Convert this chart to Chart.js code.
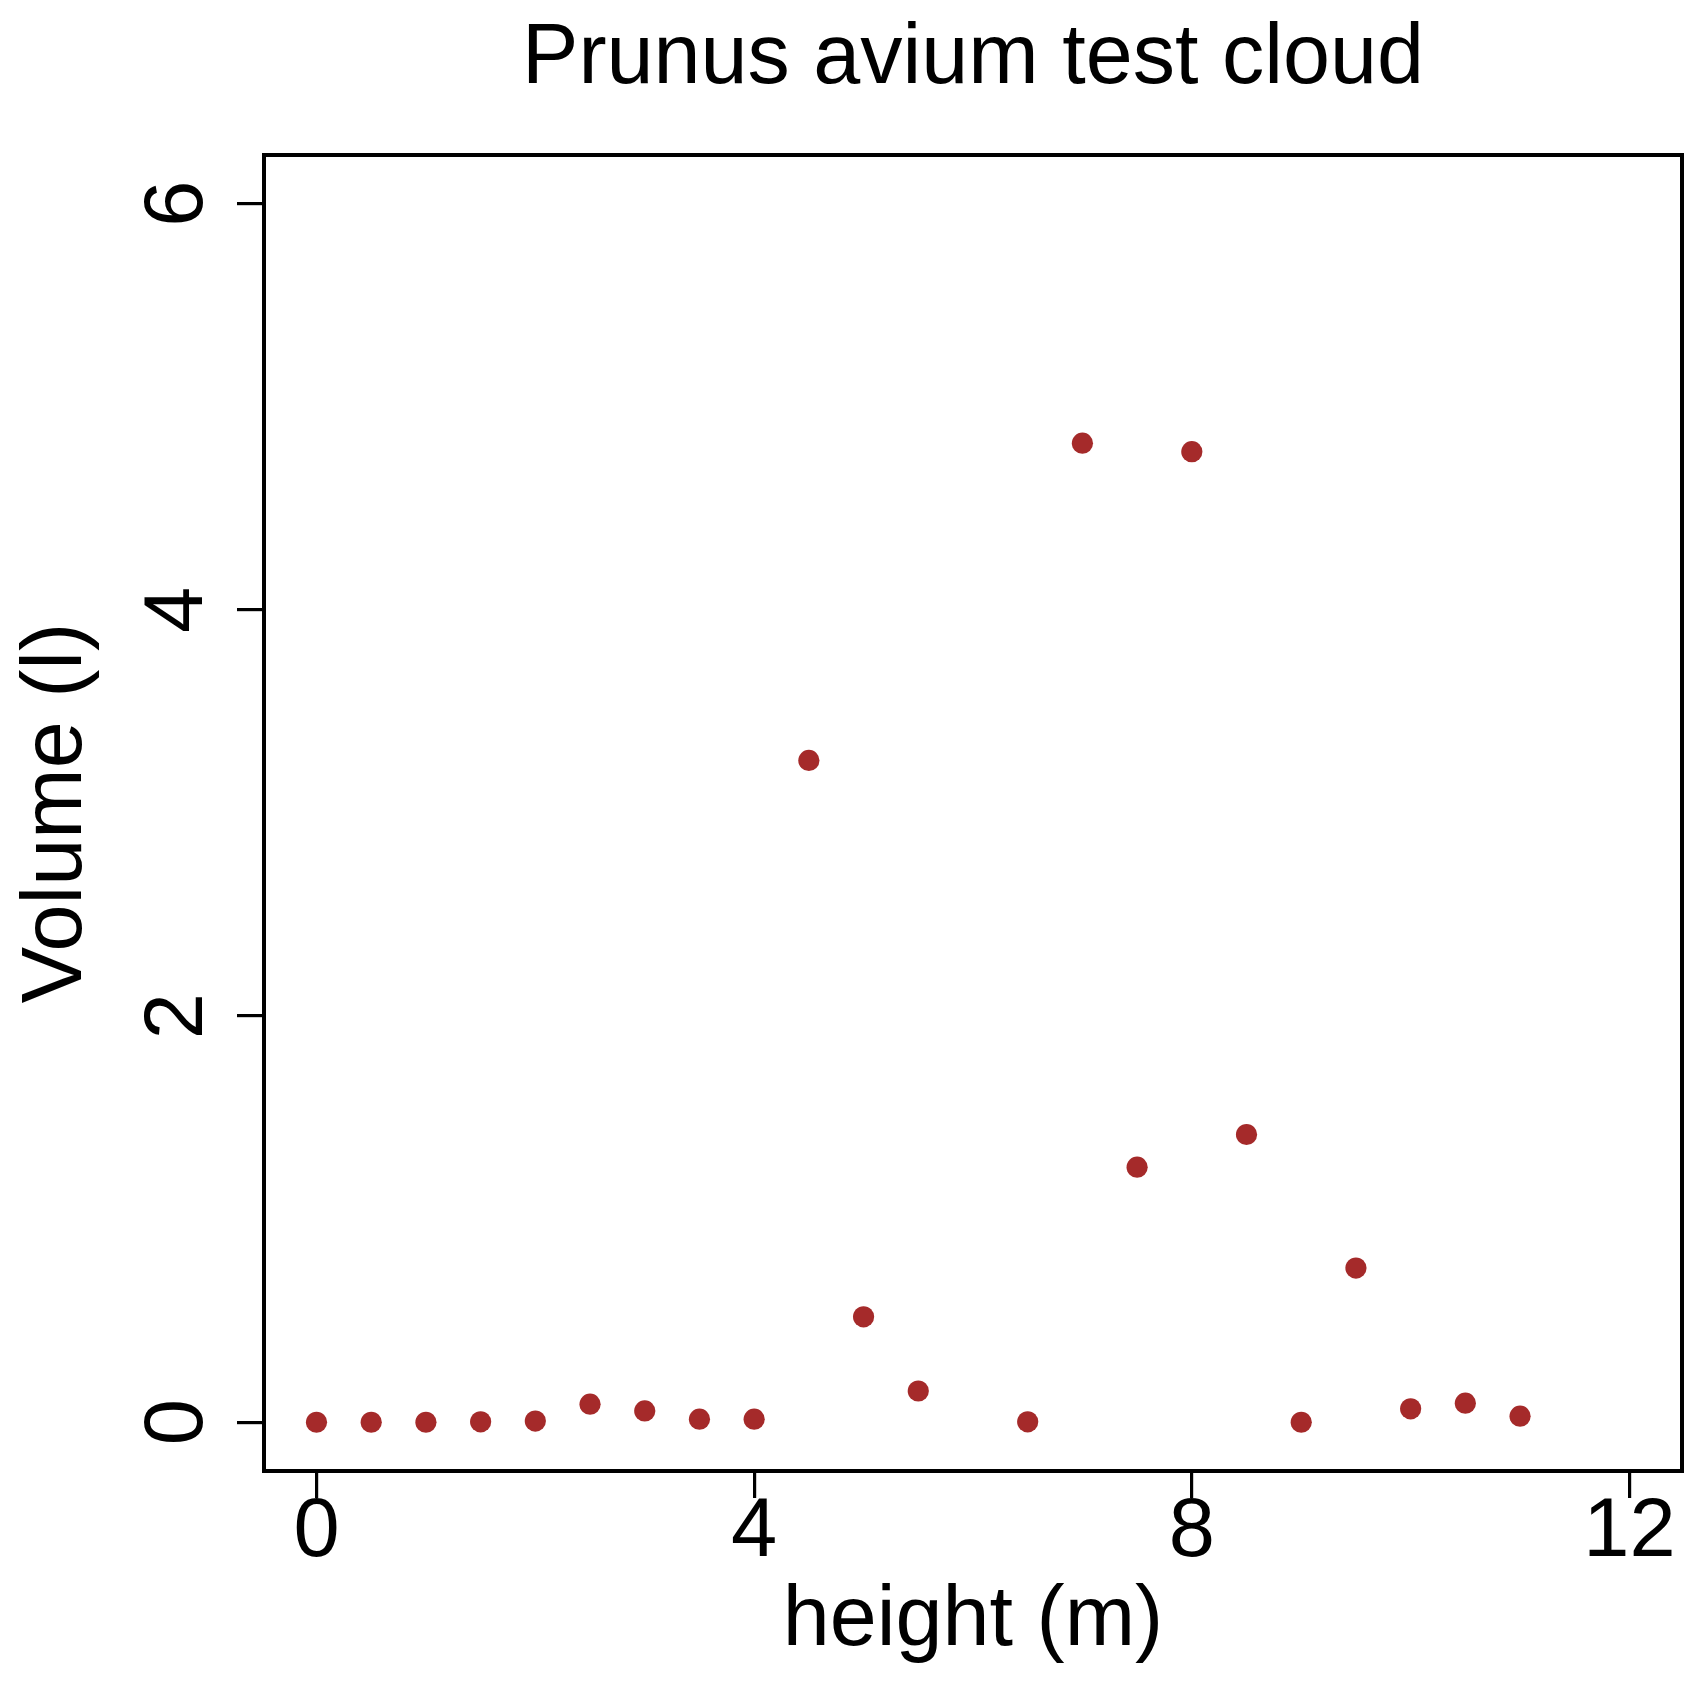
<!DOCTYPE html>
<html>
<head>
<meta charset="utf-8">
<script src="https://cdn.jsdelivr.net/npm/chart.js@4/dist/chart.umd.min.js"></script>
<style>
  html, body { margin: 0; padding: 0; background: #ffffff; }
  #wrap { width: 1708px; height: 1682px; }
</style>
</head>
<body>
<div id="wrap"><canvas id="c" width="1708" height="1682"></canvas></div>
<script>
// ---- data ----
const heights = [0, 0.5, 1, 1.5, 2, 2.5, 3, 3.5, 4, 4.5, 5, 5.5, 6.5, 7, 7.5, 8, 8.5, 9, 9.5, 10, 10.5, 11];
const volumes = [0, 0, 0, 0.002, 0.006, 0.089, 0.056, 0.015, 0.015, 3.259, 0.519, 0.154, 0.002, 4.821, 1.256, 4.779, 1.417, 0, 0.759, 0.066, 0.094, 0.030];
const xTicks = [0, 4, 8, 12];
const yTicks = [0, 2, 4, 6];
const xRange = [0, 12];
const yRange = [0, 6];
const titleText = 'Prunus avium test cloud';
const xLabel = 'height (m)';
const yLabel = 'Volume (l)';

// ---- styling ----
const FONT = "'Liberation Sans', Arial, Helvetica, sans-serif";
const FS_TICK = 83;
const FS_TITLE = 84.5;
const pointColor = '#A52A2A';
const xPad = (xRange[1] - xRange[0]) * 0.04;
const yPad = (yRange[1] - yRange[0]) * 0.04;

const points = heights.map((h, i) => ({ x: h, y: volumes[i] }));

const boxPlugin = {
  id: 'rbox',
  afterDraw(chart) {
    const a = chart.chartArea;
    const ctx = chart.ctx;
    ctx.save();
    ctx.strokeStyle = '#000';
    ctx.lineWidth = 4;
    ctx.lineJoin = 'miter';
    ctx.strokeRect(a.left, a.top, a.right - a.left, a.bottom - a.top);
    ctx.restore();
  }
};

new Chart(document.getElementById('c'), {
  type: 'scatter',
  data: {
    datasets: [{
      data: points,
      backgroundColor: pointColor,
      borderWidth: 0,
      pointRadius: 10.6,
      pointHoverRadius: 10.6
    }]
  },
  options: {
    responsive: false,
    animation: false,
    devicePixelRatio: 1,
    layout: { padding: { left: 0, right: 26, top: 0, bottom: 0 } },
    plugins: {
      legend: { display: false },
      tooltip: { enabled: false },
      title: {
        display: true,
        text: titleText,
        fullSize: false,
        color: '#000',
        font: { family: FONT, size: FS_TITLE, weight: 'normal', lineHeight: 1.2 },
        padding: { top: 8.6, bottom: 45 }
      }
    },
    scales: {
      x: {
        type: 'linear',
        position: 'bottom',
        min: xRange[0] - xPad,
        max: xRange[1] + xPad,
        afterBuildTicks: s => { s.ticks = xTicks.map(v => ({ value: v })); },
        afterFit: s => { s.height = 211; },
        border: { display: false },
        grid: {
          display: true,
          drawOnChartArea: false,
          drawTicks: true,
          tickLength: 27,
          tickColor: '#000',
          tickWidth: 3.2,
          color: '#000',
          lineWidth: 3.2
        },
        ticks: {
          autoSkip: false,
          maxRotation: 0,
          minRotation: 0,
          color: '#000',
          padding: -6,
          font: { family: FONT, size: FS_TICK, lineHeight: 1 },
          callback: v => String(v)
        },
        title: {
          display: true,
          text: xLabel,
          color: '#000',
          font: { family: FONT, size: FS_TITLE, lineHeight: 1 },
          padding: { top: 0, bottom: 18.25 }
        }
      },
      y: {
        type: 'linear',
        position: 'left',
        min: yRange[0] - yPad,
        max: yRange[1] + yPad,
        afterBuildTicks: s => { s.ticks = yTicks.map(v => ({ value: v })); },
        afterFit: s => { s.width = 264; },
        border: { display: false },
        grid: {
          display: true,
          drawOnChartArea: false,
          drawTicks: true,
          tickLength: 27,
          tickColor: '#000',
          tickWidth: 3.2,
          color: '#000',
          lineWidth: 3.2
        },
        ticks: {
          autoSkip: false,
          minRotation: 90,
          maxRotation: 90,
          crossAlign: 'center',
          color: '#000',
          padding: 35,
          font: { family: FONT, size: FS_TICK, lineHeight: 1 },
          callback: v => String(v)
        },
        title: {
          display: true,
          text: yLabel,
          color: '#000',
          font: { family: FONT, size: FS_TITLE, lineHeight: 1 },
          padding: { top: 15.75, bottom: 0 }
        }
      }
    }
  },
  plugins: [boxPlugin]
});
</script>
</body>
</html>
